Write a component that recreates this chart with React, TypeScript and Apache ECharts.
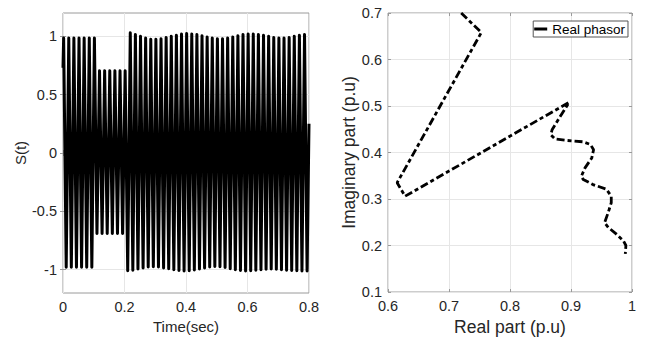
import React, { useEffect, useRef } from "react";
import * as echarts from "echarts";

// ---- Left plot: S(t), 60 Hz signal; amplitude of each positive / negative peak read per cycle ----
const signalStart = 0.73; // S(0)
const signalEnd = 0.25; // S(0.8)
const firstPeakTime = 0.0021; // s
const cyclePeriod = 1 / 60; // s (60 Hz)
const peakValues = [
  0.985, 0.985, 0.985, 0.985, 0.985, 0.985, 0.985,
  0.705, 0.705, 0.705, 0.705, 0.705, 0.705,
  1.03, 1.015, 1.0, 0.985, 0.975, 0.975, 0.98, 0.99, 1.0, 1.01, 1.02, 1.025,
  1.02, 1.015, 1.005, 0.995, 0.985, 0.98, 0.98, 0.985, 0.995, 1.005, 1.015, 1.02,
  1.02, 1.015, 1.01, 1.0, 0.99, 0.985, 0.985, 0.99, 1.0, 1.01, 1.015,
];
const troughValues = [
  -0.98, -0.98, -0.98, -0.98, -0.98, -0.98,
  -0.69, -0.69, -0.69, -0.69, -0.69, -0.69,
  -1.01, -1.005, -0.995, -0.985, -0.978, -0.975, -0.978, -0.985, -0.993, -1.0, -1.008, -1.012,
  -1.01, -1.003, -0.995, -0.985, -0.977, -0.972, -0.975, -0.982, -0.992, -1.0, -1.008, -1.012,
  -1.01, -1.005, -1.0, -0.997, -0.995, -0.997, -1.0, -1.005, -1.008, -1.01, -1.012, -1.012,
];
const leftYTicks = [-1, -0.5, 0, 0.5, 1];

// ---- Right plot: real phasor trajectory ----
const phasorReal = [
  0.72, 0.753, 0.615, 0.628, 0.897, 0.882, 0.869, 0.867, 0.874, 0.893, 0.92, 0.932, 0.937,
  0.934, 0.923, 0.917, 0.92, 0.936, 0.958, 0.966, 0.966, 0.961, 0.955, 0.961, 0.974, 0.986,
  0.99, 0.989,
];
const phasorImag = [
  0.70, 0.658, 0.335, 0.306, 0.508, 0.477, 0.449, 0.438, 0.429, 0.426, 0.423, 0.417, 0.406,
  0.388, 0.367, 0.349, 0.342, 0.331, 0.321, 0.306, 0.292, 0.271, 0.249, 0.239, 0.225, 0.21,
  0.2, 0.182,
];
const legendName = "Real phasor";

const FONT = "'Liberation Sans', Arial, sans-serif";
const TEXT = "#262626";
const BOX = "#9a9a9a";
const GRIDC = "#e6e6e6";

export default function App() {
  const ref = useRef<HTMLDivElement>(null);

  useEffect(() => {
    if (!ref.current) return;
    const chart = echarts.init(ref.current, undefined, { renderer: "svg" });

    const signal: number[][] = [[0, signalStart]];
    for (let k = 0; k < peakValues.length; k++) {
      signal.push([firstPeakTime + k * cyclePeriod, peakValues[k]]);
      signal.push([firstPeakTime + (k + 0.5) * cyclePeriod, troughValues[k]]);
    }
    signal.push([0.8, signalEnd]);

    const phasor = phasorReal.map((x, i) => [x, phasorImag[i]]);

    const axisLabel = { color: TEXT, fontSize: 14.5, fontFamily: FONT, margin: 6 };
    const tick = { show: true, inside: true, length: 3, lineStyle: { color: BOX, width: 1 } };
    const split = { show: true, lineStyle: { color: GRIDC, width: 1 } };
    const nameStyleL = { color: TEXT, fontSize: 15, fontFamily: FONT };
    const nameStyleR = { color: TEXT, fontSize: 17.5, fontFamily: FONT };

    const option: any = {
      animation: false,
      backgroundColor: "#ffffff",
      grid: [
        { left: 63, right: 337, top: 13, bottom: 48, show: true, borderColor: BOX, borderWidth: 1, backgroundColor: "transparent" },
        { left: 388, right: 14, top: 13, bottom: 48, show: true, borderColor: BOX, borderWidth: 1, backgroundColor: "transparent" },
      ],
      legend: {
        data: [{ name: legendName, icon: "rect" }],
        right: 18,
        top: 21,
        orient: "horizontal",
        backgroundColor: "#ffffff",
        borderColor: "#555",
        borderWidth: 1,
        borderRadius: 0,
        padding: [1, 3, 1, 1],
        itemWidth: 13,
        itemHeight: 3,
        itemGap: 4,
        itemStyle: { color: "#000" },
        textStyle: { color: "#000", fontSize: 13.5, fontFamily: FONT, lineHeight: 13 },
      },
      xAxis: [
        {
          type: "value", gridIndex: 0, position: "bottom", min: 0, max: 0.8, interval: 0.2,
          axisLine: { show: false }, axisTick: tick, splitLine: split, axisLabel,
          name: "Time(sec)", nameLocation: "middle", nameGap: 23, nameTextStyle: nameStyleL,
        },
        {
          type: "value", gridIndex: 0, position: "top", min: 0, max: 0.8, interval: 0.2,
          axisLine: { show: false }, axisTick: tick, splitLine: { show: false }, axisLabel: { show: false },
        },
        {
          type: "value", gridIndex: 1, position: "bottom", min: 0.6, max: 1, interval: 0.1,
          axisLine: { show: false }, axisTick: tick, splitLine: split, axisLabel,
          name: "Real part (p.u)", nameLocation: "middle", nameGap: 26, nameTextStyle: nameStyleR,
        },
        {
          type: "value", gridIndex: 1, position: "top", min: 0.6, max: 1, interval: 0.1,
          axisLine: { show: false }, axisTick: tick, splitLine: { show: false }, axisLabel: { show: false },
        },
      ],
      yAxis: [
        {
          type: "value", gridIndex: 0, position: "left", min: -1.2, max: 1.2,
          axisLine: { show: false },
          axisTick: { ...tick, customValues: leftYTicks },
          splitLine: split,
          axisLabel: { ...axisLabel, customValues: leftYTicks },
          name: "S(t)", nameLocation: "middle", nameGap: 34, nameTextStyle: nameStyleL,
        },
        {
          type: "value", gridIndex: 0, position: "right", min: -1.2, max: 1.2,
          axisLine: { show: false },
          axisTick: { ...tick, customValues: leftYTicks },
          splitLine: { show: false }, axisLabel: { show: false, customValues: leftYTicks },
        },
        {
          type: "value", gridIndex: 1, position: "left", min: 0.1, max: 0.7, interval: 0.1,
          axisLine: { show: false }, axisTick: tick, splitLine: split, axisLabel,
          name: "Imaginary part (p.u)", nameLocation: "middle", nameGap: 28, nameTextStyle: nameStyleR,
        },
        {
          type: "value", gridIndex: 1, position: "right", min: 0.1, max: 0.7, interval: 0.1,
          axisLine: { show: false }, axisTick: tick, splitLine: { show: false }, axisLabel: { show: false },
        },
      ],
      series: [
        {
          type: "line", name: "S(t)", xAxisIndex: 0, yAxisIndex: 0, data: signal,
          showSymbol: false, symbol: "none", clip: true, silent: true,
          lineStyle: { color: "#000", width: 3, join: "round" },
        },
        {
          type: "line", name: legendName, xAxisIndex: 2, yAxisIndex: 2, data: phasor,
          showSymbol: false, symbol: "none", clip: true, silent: true,
          itemStyle: { color: "#000" },
          lineStyle: { color: "#000", width: 2.8, type: [8, 3, 4, 3] },
        },
      ],
    };

    chart.setOption(option);
    return () => chart.dispose();
  }, []);

  return (
    <div
      ref={ref}
      style={{ position: "fixed", left: 0, top: 0, width: 646, height: 341, background: "#fff" }}
    />
  );
}
